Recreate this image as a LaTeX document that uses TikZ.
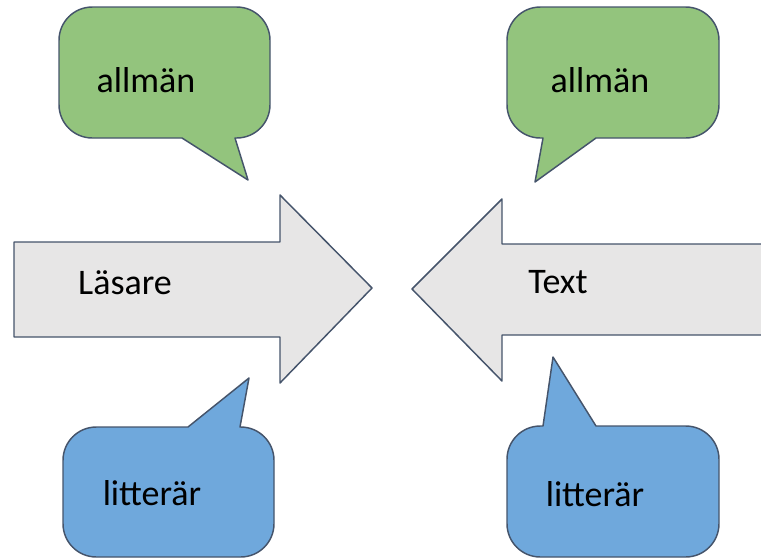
\documentclass[tikz,border=0pt]{standalone}
\usepackage{fontspec}
\setmainfont{Carlito}
\usepackage{tikz}
\definecolor{ddtttt}{rgb}{0.27,0.33,0.42}
\definecolor{eeeeee}{rgb}{0.906,0.902,0.902}
\definecolor{ggccqq}{rgb}{0.576,0.769,0.490}
\definecolor{qqaadd}{rgb}{0.435,0.659,0.863}
\tikzset{bubble/.style={draw=ddtttt, line width=1.1pt, line join=round},
  lbl/.style={anchor=base, font=\fontsize{27}{30}\selectfont}}

\begin{document}
\begin{tikzpicture}[x=0.75pt,y=-0.75pt]
			\useasboundingbox (0,0) rectangle (761,558);
			\clip (0,0) rectangle (761,558);
			% pilar
			\draw [bubble,fill=eeeeee] (14,242) -- (280,242) -- (280,195) -- (372,288) -- (280,383) -- (280,337) -- (14,337) -- cycle;
			\draw [bubble,fill=eeeeee] (770,244) -- (502,244) -- (502,199) -- (412,289) -- (502,381) -- (502,335) -- (770,335) -- cycle;
			% pratbubblor
			\draw [bubble,fill=ggccqq] (235,138) [rounded corners=25] -- (270,138) -- (270,7) -- (59,7) -- (59,138) [sharp corners] -- (182,138) -- (248,180) -- cycle;
			\draw [bubble,fill=ggccqq] (596,138) [rounded corners=25] -- (719,138) -- (719,7) -- (507,7) -- (507,138) [sharp corners] -- (543,138) -- (535,182) -- cycle;
			\draw [bubble,fill=qqaadd] (188,427) [rounded corners=25] -- (63,427) -- (63,557) -- (274,557) -- (274,427) [sharp corners] -- (240,427) -- (249,378) -- cycle;
			\draw [bubble,fill=qqaadd] (543,426) [rounded corners=25] -- (507,426) -- (507,557) -- (719,557) -- (719,426) [sharp corners] -- (596,426) -- (553,357) -- cycle;
			% texter
			\node [lbl] (allman1) at (146,92) {allmän};
			\node [lbl] (allman2) at (600,92) {allmän};
			\node [lbl] (lasare) at (125,294) {Läsare};
			\node [lbl] (text) at (558,293) {Text};
			\node [lbl] (litt1) at (152,505) {litterär};
			\node [lbl] (litt2) at (595,506) {litterär};
		\end{tikzpicture}
\end{document}
